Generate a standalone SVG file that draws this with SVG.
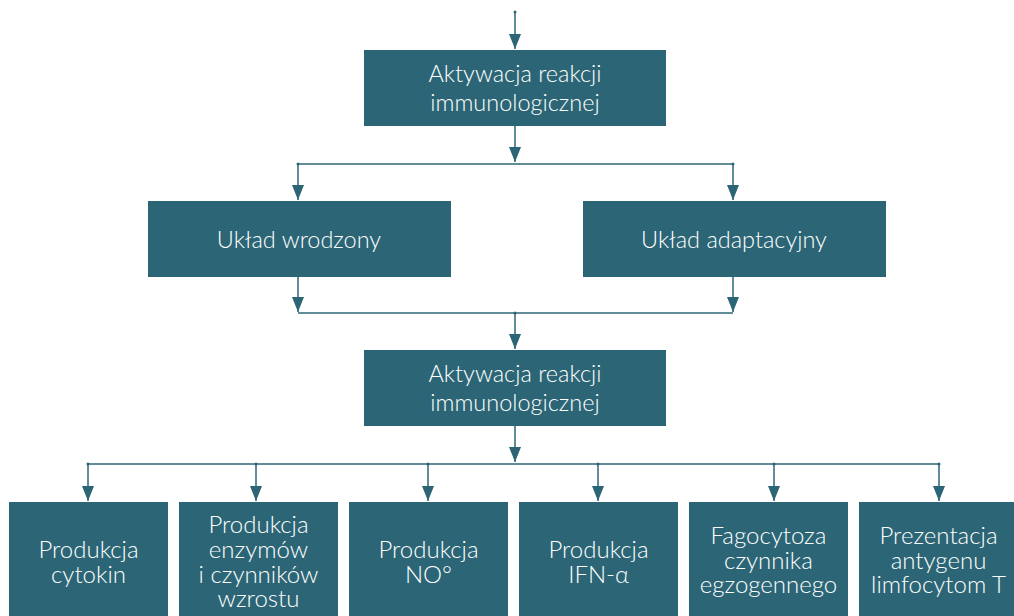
<svg xmlns="http://www.w3.org/2000/svg" width="1014" height="616" viewBox="0 0 1014 616">
<style>
.box{fill:#2c6676}
.t{fill:#ffffff;font-family:Lato,"Open Sans","DejaVu Sans",sans-serif;text-anchor:middle;font-weight:300}
.m{font-size:23.5px}
.s{font-size:24px}
.c{stroke:#2c6676;stroke-width:1.5;fill:none}
.d{fill:#2c6676}
</style>
<defs>
<marker id="ah" markerWidth="15" markerHeight="12" refX="15" refY="6" orient="auto" markerUnits="userSpaceOnUse" viewBox="0 0 15 12">
<path d="M0,0 L15,6 L0,12 Z" fill="#2c6676"/>
</marker>
</defs>
<g id="connectors">
<path class="c" d="M515,12 V49" marker-end="url(#ah)"/>
<circle class="d" cx="515" cy="12" r="1.5"/>
<path class="c" d="M515,126 V162" marker-end="url(#ah)"/>
<path class="c" d="M298,164 H733"/>
<path class="c" d="M298,164 V200" marker-end="url(#ah)"/>
<path class="c" d="M733,164 V200" marker-end="url(#ah)"/>
<circle class="d" cx="298" cy="164" r="1.5"/>
<circle class="d" cx="733" cy="164" r="1.5"/>
<path class="c" d="M298,277 V312" marker-end="url(#ah)"/>
<path class="c" d="M733,277 V312" marker-end="url(#ah)"/>
<path class="c" d="M298,313 H733"/>
<path class="c" d="M515,313 V349" marker-end="url(#ah)"/>
<circle class="d" cx="515" cy="313" r="1.5"/>
<path class="c" d="M515,426 V462" marker-end="url(#ah)"/>
<path class="c" d="M88,464 H939"/>
<path class="c" d="M88,464 V501" marker-end="url(#ah)"/>
<path class="c" d="M256,464 V501" marker-end="url(#ah)"/>
<path class="c" d="M428,464 V501" marker-end="url(#ah)"/>
<path class="c" d="M598,464 V501" marker-end="url(#ah)"/>
<path class="c" d="M774,464 V501" marker-end="url(#ah)"/>
<path class="c" d="M939,464 V501" marker-end="url(#ah)"/>
<circle class="d" cx="88" cy="464" r="1.5"/>
<circle class="d" cx="256" cy="464" r="1.5"/>
<circle class="d" cx="428" cy="464" r="1.5"/>
<circle class="d" cx="598" cy="464" r="1.5"/>
<circle class="d" cx="774" cy="464" r="1.5"/>
<circle class="d" cx="939" cy="464" r="1.5"/>
</g>
<g id="n1">
<rect class="box" x="364" y="50" width="302" height="76"/>
<text class="t m" x="515" y="82">Aktywacja reakcji</text>
<text class="t m" x="515" y="111">immunologicznej</text>
</g>
<g id="n2">
<rect class="box" x="148" y="201" width="303" height="76"/>
<text class="t m" x="299" y="248">Układ wrodzony</text>
</g>
<g id="n3">
<rect class="box" x="583" y="201" width="303" height="76"/>
<text class="t m" x="734" y="248">Układ adaptacyjny</text>
</g>
<g id="n4">
<rect class="box" x="364" y="350" width="302" height="76"/>
<text class="t m" x="515" y="382">Aktywacja reakcji</text>
<text class="t m" x="515" y="411">immunologicznej</text>
</g>
<g id="b1">
<rect class="box" x="9" y="502" width="159" height="120"/>
<text class="t s" x="88.5" y="558">Produkcja</text>
<text class="t s" x="88.5" y="583">cytokin</text>
</g>
<g id="b2">
<rect class="box" x="179" y="502" width="159" height="120"/>
<text class="t s" x="258.5" y="533">Produkcja</text>
<text class="t s" x="258.5" y="558">enzymów</text>
<text class="t s" x="258.5" y="583">i czynników</text>
<text class="t s" x="258.5" y="607">wzrostu</text>
</g>
<g id="b3">
<rect class="box" x="349" y="502" width="159" height="120"/>
<text class="t s" x="428.5" y="558">Produkcja</text>
<text class="t s" x="428.5" y="583">NO°</text>
</g>
<g id="b4">
<rect class="box" x="519" y="502" width="159" height="120"/>
<text class="t s" x="598.5" y="558">Produkcja</text>
<text class="t s" x="598.5" y="583">IFN-α</text>
</g>
<g id="b5">
<rect class="box" x="689" y="502" width="159" height="120"/>
<text class="t s" x="768.5" y="544">Fagocytoza</text>
<text class="t s" x="768.5" y="568.5">czynnika</text>
<text class="t s" x="768.5" y="593">egzogennego</text>
</g>
<g id="b6">
<rect class="box" x="859" y="502" width="160" height="120"/>
<text class="t s" x="938.5" y="544">Prezentacja</text>
<text class="t s" x="938.5" y="568.5">antygenu</text>
<text class="t s" x="938.5" y="593">limfocytom T</text>
</g>
</svg>
